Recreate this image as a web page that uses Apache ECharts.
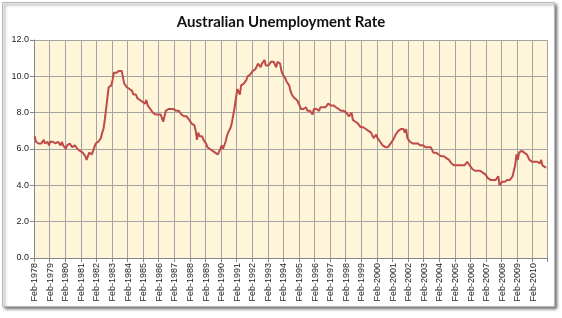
<!DOCTYPE html>
<html>
<head>
<meta charset="utf-8">
<script src="https://cdn.jsdelivr.net/npm/echarts@6/dist/echarts.min.js"></script>
<style>
html,body{margin:0;padding:0;background:#fff;}
#chart{width:562px;height:318px;}
</style>
</head>
<body>
<div id="chart"></div>
<script>
// Monthly categories, Feb-1978 .. Dec-2010
const monthNames = ['Jan','Feb','Mar','Apr','May','Jun','Jul','Aug','Sep','Oct','Nov','Dec'];
const startYear = 1978;
const startMonth = 1; // Feb
const monthCount = 395;
const categories = [];
for (let i = 0; i < monthCount; i++) {
  const m = (startMonth + i) % 12;
  const y = startYear + Math.floor((startMonth + i) / 12);
  categories.push(monthNames[m] + '-' + y);
}

// Unemployment rate (%), one row per Feb..Jan block
const rate1978 = [6.7, 6.4, 6.3, 6.3, 6.3, 6.3, 6.2, 6.5, 6.3, 6.3, 6.4, 6.2];
const rate1979 = [6.4, 6.4, 6.4, 6.5, 6.3, 6.3, 6.4, 6.3, 6.2, 6.4, 6.2, 6.3];
const rate1980 = [6.0, 6.2, 6.2, 6.3, 6.2, 6.1, 6.1, 6.2, 6.1, 6.0, 6.0, 5.9];
const rate1981 = [5.9, 5.8, 5.7, 5.6, 5.4, 5.5, 5.8, 5.7, 5.7, 5.9, 6.0, 6.3];
const rate1982 = [6.4, 6.4, 6.5, 6.6, 6.9, 7.1, 7.6, 8.2, 8.8, 9.4, 9.3, 9.5];
const rate1983 = [9.8, 10.2, 10.3, 10.2, 10.3, 10.3, 10.2, 10.3, 10.3, 9.6, 9.5, 9.4];
const rate1984 = [9.5, 9.3, 9.2, 9.2, 9.0, 8.9, 9.0, 8.8, 8.8, 8.7, 8.7, 8.6];
const rate1985 = [8.6, 8.5, 8.7, 8.4, 8.3, 8.2, 8.1, 8.0, 7.9, 7.9, 8.0, 7.9];
const rate1986 = [7.8, 7.9, 7.7, 7.5, 7.8, 8.1, 8.1, 8.2, 8.1, 8.2, 8.1, 8.2];
const rate1987 = [8.2, 8.1, 8.2, 8.1, 8.0, 7.9, 8.0, 7.8, 7.9, 7.8, 7.7, 7.6];
const rate1988 = [7.5, 7.4, 7.5, 7.3, 7.0, 6.5, 6.9, 6.7, 6.6, 6.7, 6.5, 6.5];
const rate1989 = [6.3, 6.1, 6.1, 6.0, 5.9, 5.9, 5.8, 5.8, 5.7, 5.7, 5.6, 6.0];
const rate1990 = [6.2, 6.0, 6.1, 6.4, 6.7, 6.9, 7.0, 7.2, 7.5, 7.9, 8.3, 8.8];
const rate1991 = [9.3, 9.4, 9.0, 9.5, 9.6, 9.6, 9.7, 9.8, 10.0, 10.0, 10.1, 10.2];
const rate1992 = [10.3, 10.4, 10.4, 10.5, 10.7, 10.8, 10.5, 10.7, 10.7, 10.9, 10.6, 10.7];
const rate1993 = [10.6, 10.7, 10.8, 10.7, 10.8, 10.7, 10.5, 10.8, 10.7, 10.7, 10.3, 10.1];
const rate1994 = [10.0, 9.9, 9.7, 9.6, 9.5, 9.2, 9.0, 8.9, 8.8, 8.8, 8.7, 8.6];
const rate1995 = [8.4, 8.2, 8.1, 8.2, 8.1, 8.3, 8.1, 8.2, 8.1, 8.2, 7.9, 8.2];
const rate1996 = [8.1, 8.2, 8.2, 8.1, 8.3, 8.2, 8.3, 8.4, 8.3, 8.4, 8.5, 8.5];
const rate1997 = [8.4, 8.3, 8.4, 8.3, 8.3, 8.2, 8.2, 8.1, 8.1, 8.0, 8.1, 8.0];
const rate1998 = [8.0, 7.9, 7.8, 7.9, 8.0, 7.6, 7.7, 7.5, 7.4, 7.4, 7.3, 7.2];
const rate1999 = [7.2, 7.2, 7.3, 7.1, 7.0, 7.0, 6.9, 6.9, 6.8, 6.6, 6.7, 6.8];
const rate2000 = [6.6, 6.5, 6.4, 6.3, 6.2, 6.3, 6.1, 6.0, 6.1, 6.0, 6.3, 6.4];
const rate2001 = [6.5, 6.6, 6.8, 6.9, 7.0, 7.0, 7.1, 7.0, 7.1, 6.9, 7.1, 6.6];
const rate2002 = [6.5, 6.4, 6.4, 6.3, 6.4, 6.3, 6.2, 6.3, 6.2, 6.2, 6.1, 6.2];
const rate2003 = [6.1, 6.1, 6.2, 6.1, 6.1, 6.1, 6.0, 5.8, 5.8, 5.8, 5.7, 5.7];
const rate2004 = [5.6, 5.6, 5.5, 5.6, 5.7, 5.5, 5.5, 5.4, 5.3, 5.2, 5.2, 5.1];
const rate2005 = [5.1, 5.1, 5.0, 5.1, 5.0, 5.1, 5.0, 5.1, 5.2, 5.3, 5.2, 5.1];
const rate2006 = [5.0, 4.9, 4.9, 4.8, 4.8, 4.8, 4.7, 4.8, 4.7, 4.7, 4.6, 4.6];
const rate2007 = [4.5, 4.4, 4.3, 4.3, 4.3, 4.3, 4.2, 4.3, 4.3, 4.5, 4.0, 4.1];
const rate2008 = [4.2, 4.3, 4.2, 4.3, 4.3, 4.2, 4.3, 4.3, 4.5, 4.8, 5.1, 5.7];
const rate2009 = [5.4, 5.8, 5.8, 5.9, 5.8, 5.8, 5.8, 5.7, 5.6, 5.4, 5.5, 5.3];
const rate2010 = [5.3, 5.3, 5.2, 5.3, 5.2, 5.2, 5.4, 5.1, 5.1, 5.0, 5.0];

const unemploymentRate = [].concat(
  rate1978, rate1979, rate1980, rate1981, rate1982, rate1983, rate1984, rate1985,
  rate1986, rate1987, rate1988, rate1989, rate1990, rate1991, rate1992, rate1993,
  rate1994, rate1995, rate1996, rate1997, rate1998, rate1999, rate2000, rate2001,
  rate2002, rate2003, rate2004, rate2005, rate2006, rate2007, rate2008, rate2009, rate2010
);

const yMin = 0, yMax = 12, yStep = 2;

const chart = echarts.init(document.getElementById('chart'), null, {renderer: 'canvas'});
chart.setOption({
  animation: false,
  backgroundColor: '#ffffff',
  graphic: [{
    type: 'rect',
    z: -10,
    silent: true,
    shape: {x: 2.5, y: 2.5, width: 552, height: 304},
    style: {
      fill: '#ffffff',
      stroke: '#b8b8b8',
      lineWidth: 1,
      shadowColor: 'rgba(0,0,0,0.55)',
      shadowBlur: 3,
      shadowOffsetX: 2,
      shadowOffsetY: 2
    }
  }],
  title: {
    text: 'Australian Unemployment Rate',
    left: 'center',
    top: 10,
    textStyle: {fontFamily: 'Lato', fontSize: 15, fontWeight: 'bold', color: '#111'}
  },
  grid: {
    left: 34, right: 15, top: 40, bottom: 60,
    show: true, backgroundColor: '#FFF5D8', borderWidth: 0
  },
  xAxis: {
    type: 'category',
    data: categories,
    boundaryGap: true,
    axisLine: {show: true, lineStyle: {color: '#868686', width: 1}},
    axisTick: {show: true, interval: 11, length: 4, lineStyle: {color: '#868686'}},
    axisLabel: {interval: 11, rotate: 90, fontSize: 9, color: '#222', margin: 5, fontFamily: 'Liberation Sans'},
    splitLine: {show: true, interval: 11, lineStyle: {color: '#A3A3A3', width: 1}}
  },
  yAxis: {
    type: 'value',
    min: yMin, max: yMax, interval: yStep,
    axisLine: {show: true, lineStyle: {color: '#868686', width: 1}},
    axisTick: {show: true, length: 4, lineStyle: {color: '#868686'}},
    axisLabel: {fontSize: 9, color: '#222', margin: 5, fontFamily: 'Liberation Sans',
      formatter: v => v.toFixed(1)},
    splitLine: {show: true, lineStyle: {color: '#A3A3A3', width: 1}}
  },
  series: [{
    type: 'line',
    data: unemploymentRate,
    showSymbol: false,
    symbol: 'none',
    lineStyle: {color: '#BE4B48', width: 2},
    itemStyle: {color: '#BE4B48'}
  }]
});
</script>
</body>
</html>
